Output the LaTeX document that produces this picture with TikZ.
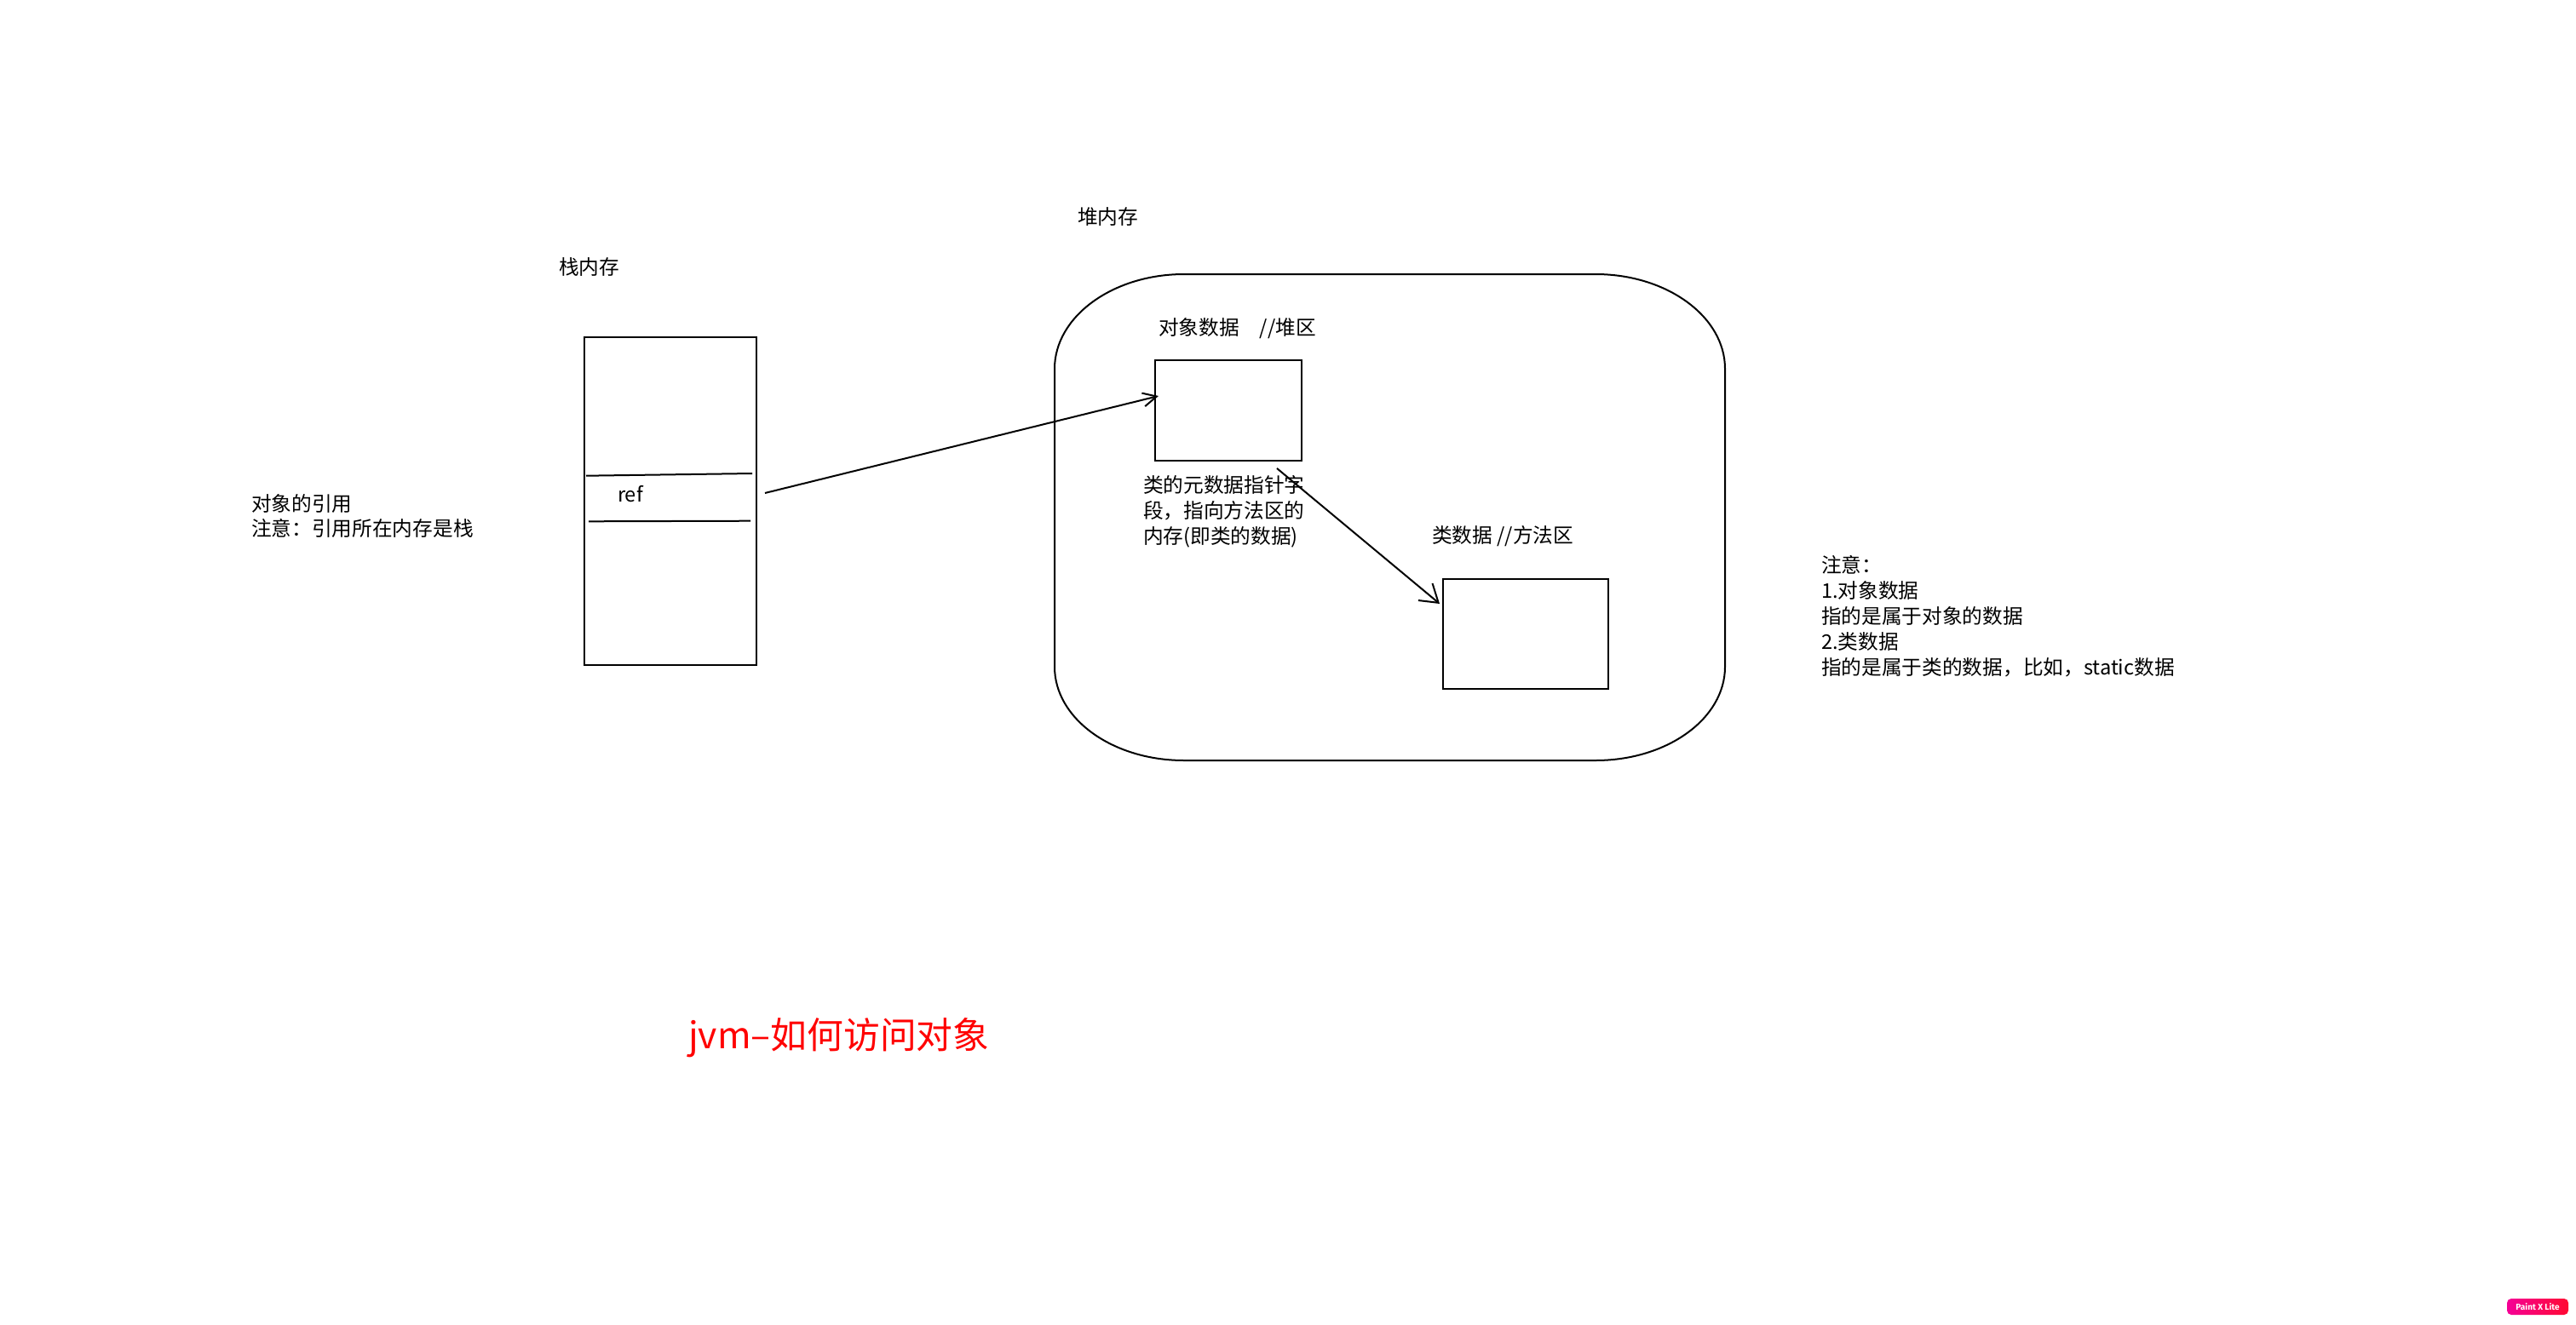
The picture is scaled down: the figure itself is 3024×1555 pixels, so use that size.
\documentclass[tikz,border=0pt]{standalone}
\usepackage{fontspec}
\setmainfont{Noto Sans CJK SC}
\newfontfamily\badgefont{Fira Sans}
\usetikzlibrary{arrows.meta}
\definecolor{badgepink}{RGB}{245,0,150}
\definecolor{badgered}{RGB}{255,10,50}
\begin{document}
\begin{tikzpicture}[x=1pt,y=-1pt,line width=2pt,
  txt/.style={inner sep=0pt,anchor=north west,align=left,font=\fontsize{23.7}{30}\selectfont},
  boxnode/.style={draw,line width=2pt,inner sep=0pt,anchor=north west},
  arrA/.style={-{Straight Barb[length=16pt,width=16pt]},line width=2pt},
  arrB/.style={-{Straight Barb[length=20pt,width=26pt]},line width=2pt}]
\useasboundingbox[fill=white] (0,0) rectangle (3024,1555);

% stack memory
\node[txt] (stacktitle) at (655,300) {\strut 栈内存};
\node[boxnode,minimum width=202pt,minimum height=385pt] (stack) at (685,395) {};
\draw (688,558.7) -- (883,556);
\draw (691,612.3) -- (881,611.7);
\node[inner sep=0pt,anchor=base west,font=\fontsize{23.7}{30}\selectfont] (ref) at (724,589) {ref};

\node[txt,font=\fontsize{23.7}{29}\selectfont] (stacknote) at (294,579) {\strut 对象的引用\\注意：引用所在内存是栈};

% heap memory
\node[txt] (heaptitle) at (1264,241) {\strut 堆内存};
\draw (1390,322) -- (1873,322)
  .. controls (1957,322) and (2025,372) .. (2025,433)
  -- (2025,783)
  .. controls (2025,844) and (1957,893) .. (1873,893)
  -- (1390,893)
  .. controls (1306,893) and (1238,844) .. (1238,783)
  -- (1238,433)
  .. controls (1238,372) and (1306,322) .. (1390,322) -- cycle;

\node[txt] (objlabel) at (1359,371) {\strut 对象数据\hspace{24pt}//堆区};
\node[boxnode,minimum width=172pt,minimum height=118pt] (obj) at (1355,422) {};
\node[txt] (metanote) at (1341,556) {\strut 类的元数据指针字\\段，指向方法区的\\内存(即类的数据)};

\node[txt] (clslabel) at (1680,615) {\strut 类数据 //方法区};
\node[boxnode,minimum width=194pt,minimum height=129pt] (cls) at (1693,679) {};

% connectors
\coordinate (reftail) at (898,579);
\draw[arrA] (reftail) -- ([shift={(5,-17)}]obj.west);
\draw[arrB] ([shift={(57,8)}]obj.south) -- ([shift={(-3,-35.5)}]cls.west);

% right note
\node[txt,font=\fontsize{23.7}{29.8}\selectfont] (rightnote) at (2137,651) {\strut 注意：\\1.对象数据\\指的是属于对象的数据\\2.类数据\\指的是属于类的数据，比如，static数据};

% title
\node[inner sep=0pt,anchor=base west,text=red,font=\fontsize{42.8}{50}\selectfont] (title) at (807,1231) {jvm–如何访问对象};

% watermark badge
\node[rounded corners=5pt,left color=badgepink,right color=badgered,draw=none,
  minimum width=72pt,minimum height=19pt,inner sep=0pt,text=white,
  font=\badgefont\bfseries\fontsize{10}{10}\selectfont] (badge) at (2979,1534.5) {Paint X Lite};
\end{tikzpicture}
\end{document}
